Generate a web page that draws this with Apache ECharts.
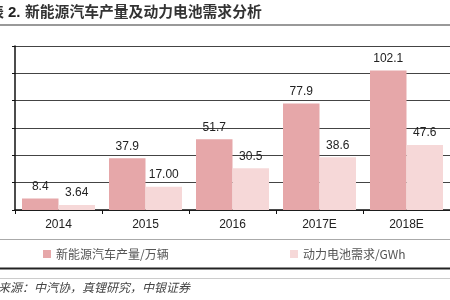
<!DOCTYPE html>
<html><head><meta charset="utf-8">
<script src="https://cdn.jsdelivr.net/npm/echarts@6/dist/echarts.min.js"></script>
<style>html,body{margin:0;padding:0;background:#fff}#c{width:450px;height:300px}</style>
</head><body><div id="c"></div>
<script>
const categories = ['2014','2015','2016','2017E','2018E'];
const evProduction = [8.4, 37.9, 51.7, 77.9, 102.1];
const evLabels = ['8.4','37.9','51.7','77.9','102.1'];
const batteryDemand = [3.64, 17.00, 30.5, 38.6, 47.6];
const batteryLabels = ['3.64','17.00','30.5','38.6','47.6'];
const seriesNames = ['新能源汽车产量/万辆','动力电池需求/GWh'];
const titlePrefix = '表';
const titleNumber = '2.';
const titleText = '新能源汽车产量及动力电池需求分析';
const sourceText = '资料来源：中汽协，真锂研究，中银证券';

const chart = echarts.init(document.getElementById('c'));
const lblStyle = {show:true, position:'top', distance:6, color:'#222', fontSize:12, fontFamily:'Arial, Liberation Sans'};
chart.setOption({
  animation:false,
  grid:{left:15, top:46, width:454, height:164},
  legend:[
    {data:[seriesNames[0]], left:38, top:243, itemWidth:8, itemHeight:8, icon:'rect', itemGap:6,
     textStyle:{color:'#555', fontSize:12, fontFamily:'Noto Sans CJK SC'}},
    {data:[seriesNames[1]], left:285, top:243, itemWidth:8, itemHeight:8, icon:'rect',
     textStyle:{color:'#555', fontSize:12, fontFamily:'Noto Sans CJK SC'}}
  ],
  xAxis:{type:'category', data:categories,
    axisLine:{lineStyle:{color:'#111', width:1.5}},
    axisTick:{show:true, length:4, lineStyle:{color:'#111'}},
    axisLabel:{color:'#222', fontSize:12, fontFamily:'Arial, Liberation Sans', margin:9}},
  yAxis:{type:'value', min:0, max:120, interval:20,
    axisLine:{show:true, lineStyle:{color:'#111', width:1.5}},
    axisTick:{show:true, length:3, lineStyle:{color:'#111'}},
    axisLabel:{show:false},
    splitLine:{lineStyle:{color:'#444', width:1}}},
  series:[
    {name:seriesNames[0], type:'bar', data:evProduction, barWidth:36.5, barGap:'0%',
     itemStyle:{color:'#E6A7A9'},
     label:Object.assign({}, lblStyle, {formatter:p=>evLabels[p.dataIndex]})},
    {name:seriesNames[1], type:'bar', data:batteryDemand, barWidth:36.5,
     itemStyle:{color:'#F6D8D8'},
     label:Object.assign({}, lblStyle, {formatter:p=>batteryLabels[p.dataIndex]})}
  ],
  graphic:[
    {type:'text', x:-10, y:5, style:{text:titlePrefix, fill:'#333', font:'bold 14px "Noto Sans CJK SC"'}},
    {type:'text', x:8, y:5, style:{text:titleNumber, fill:'#222', font:'bold 15px Arial, "Liberation Sans"'}},
    {type:'text', x:25, y:4, style:{text:titleText, fill:'#333', font:'bold 14.8px "Noto Sans CJK SC"'}},
    {type:'line', shape:{x1:0,y1:25,x2:450,y2:25}, style:{stroke:'#999', lineWidth:2}},
    {type:'line', shape:{x1:0,y1:239.5,x2:450,y2:239.5}, style:{stroke:'#aaa', lineWidth:1}},
    {type:'line', shape:{x1:0,y1:268.5,x2:450,y2:268.5}, style:{stroke:'#222', lineWidth:2}},
    {type:'line', shape:{x1:0,y1:278.5,x2:450,y2:278.5}, style:{stroke:'#ccc', lineWidth:1}},
    {type:'text', x:-26, y:281, style:{text:sourceText, fill:'#444', font:'italic 12px "Noto Sans CJK SC"'}}
  ]
});
</script></body></html>
